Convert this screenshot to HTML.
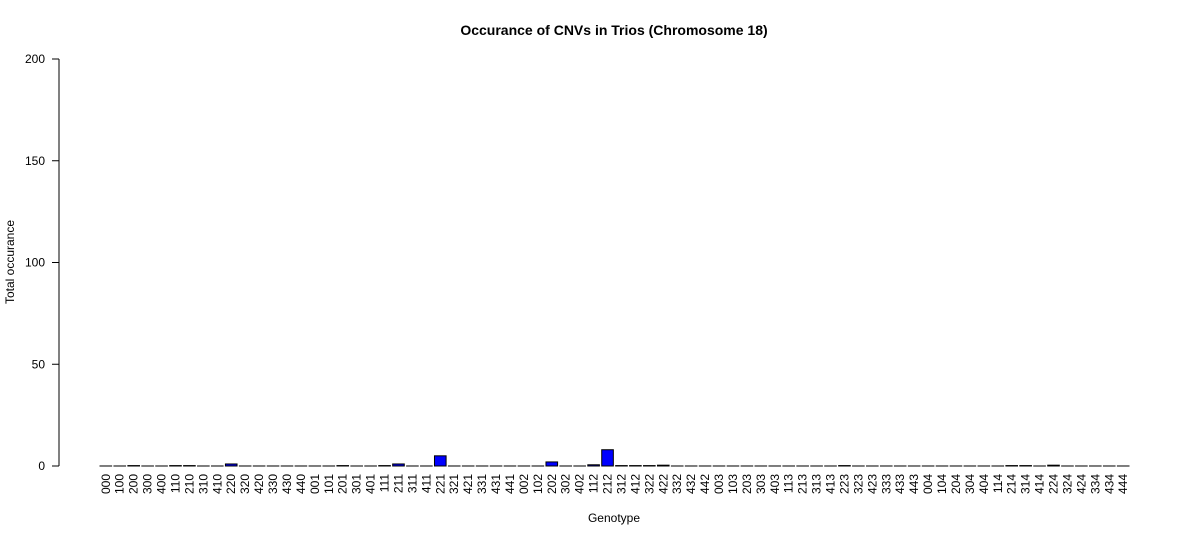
<!DOCTYPE html>
<html><head><meta charset="utf-8"><style>
body{margin:0;background:#fff;font-family:"Liberation Sans",sans-serif}
svg text{font-family:"Liberation Sans",sans-serif;fill:#000}
</style></head><body>
<svg id="chart" width="1200" height="540">
<text x="614" y="35" text-anchor="middle" font-size="14" font-weight="bold">Occurance of CNVs in Trios (Chromosome 18)</text>
<text x="614" y="522" text-anchor="middle" font-size="12">Genotype</text>
<text transform="translate(14,262) rotate(-90)" text-anchor="middle" font-size="12">Total occurance</text>
<g id="yaxis"></g>
<g id="bars"></g>
<g id="xlabels"></g>
</svg>
<script>
const categories=["000","100","200","300","400","110","210","310","410","220","320","420","330","430","440","001","101","201","301","401","111","211","311","411","221","321","421","331","431","441","002","102","202","302","402","112","212","312","412","322","422","332","432","442","003","103","203","303","403","113","213","313","413","223","323","423","333","433","443","004","104","204","304","404","114","214","314","414","224","324","424","334","434","444"];
const values=[0,0,0.2,0,0,0.2,0.2,0,0,1,0,0,0,0,0,
0,0,0.2,0,0,0.2,1,0,0,5,0,0,0,0,0,
0,0,2,0,0,0.6,8,0.2,0.2,0.2,0.4,0,0,0,
0,0,0,0,0,0,0,0,0,0.2,0,0,0,0,0,
0,0,0,0,0,0,0.2,0.2,0,0.4,0,0,0,0,0];
const yTicks=[0,50,100,150,200];
const NS="http://www.w3.org/2000/svg";
const y=v=>466-v*(407/200);
const n=categories.length;
const step=1029/(n-1+1/1.2), bw=step/1.2;
const x=i=>100+i*step;
function mk(t,a,p){const e=document.createElementNS(NS,t);for(const k in a)e.setAttribute(k,a[k]);p.appendChild(e);return e;}
const ya=document.getElementById('yaxis');
mk('line',{x1:59,x2:59,y1:y(0),y2:y(200),stroke:'#000'},ya);
yTicks.forEach(t=>{
 const l=mk('line',{x1:52,x2:59,y1:y(t),y2:y(t),stroke:'#000'},ya);
 
 
 const tx=mk('text',{x:45,y:y(t)+4,'text-anchor':'end','font-size':12},ya);
 tx.textContent=t;
 
 
});
const bg=document.getElementById('bars'), xl=document.getElementById('xlabels');
categories.forEach((c,i)=>{
 const h=Math.max(values[i]*(407/200),0.01);
 const r=mk('rect',{x:x(i),y:y(0)-h,width:bw,height:h,fill:'#0000ff',stroke:'#000','stroke-width':1},bg);
 
 
 const tx=mk('text',{transform:`translate(${x(i)+bw/2+4},474) rotate(-90)`,'text-anchor':'end','font-size':12},xl);
 tx.textContent=c;
 
 
});
</script>
</body></html>
